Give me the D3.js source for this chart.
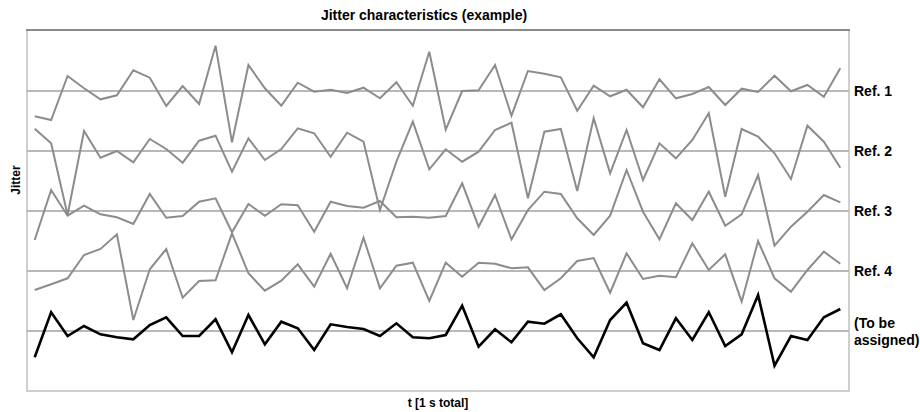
<!DOCTYPE html>
<html>
<head>
<meta charset="utf-8">
<script src="https://cdn.jsdelivr.net/npm/d3@7"></script>
<style>
  body { margin: 0; background: #fff; }
  text { font-family: Arial, "Liberation Sans", sans-serif; font-weight: bold; fill: #000; }
</style>
</head>
<body>
<svg id="chart" width="920" height="412"></svg>
<script>
// reading offsets from each reference line, one per time step (50 steps over 1 s)
const labels = ['Ref. 1', 'Ref. 2', 'Ref. 3', 'Ref. 4', '(To be assigned)'];

const ref1 = [-25.3, -29, 15, 2.7, -8.3, -4.3, 20.7, 13.3, -15, 5, -13, 45.3, -51.3, 26, 2.7, -14.7, 8.3, -0.7,
  1.3, -2, 3.3, -7.3, 8.7, -14.7, 39.3, -38.7, 0, 0.7, 26, -24.7, 20, 17.3, 13.7, -19.7,
  5.3, -5.3, 1.3, -16.3, 11.7, -7.3, -3, 4, -14, 2.3, -1, 15.3, -0.3, 6, -5.7, 22.7];
const ref2 = [22.3, 7.7, -64, 20, -6.7, 0, -11.3, 12, 2, -11.7, 10.3, 15.3, -20.7, 12.7, -9, 2, 22.7, 17.7,
  -5.7, 18.3, 9.3, -59, -10.7, 29.3, -18.3, 1.7, -10.7, -0.7, 21, 28.3, -47.3, 19.3, 22, -40,
  32.7, -22.3, 21, -29, 7.7, -7.3, 11, 37.7, -45.7, 22, 14.3, -2.3, -28, 25.3, 9.3, -16.7];
const ref3 = [-29, 21, -4.7, 5.3, -3.3, -6.3, -13, 17, -6.7, -5, 9.3, 12.7, -21.3, 7, -4.7, 6.7, 5.7, -20.7,
  9.3, 5, 3.3, 10, -6.3, -5.7, -6.7, -5, 27.7, -15.7, 16, -28.3, 1, 19.3, 17, -7.3,
  -24, -4.7, 41, -0.7, -28.3, 7.7, -9, 19.3, -14.7, -3.3, 36, -34.7, -15.7, -0.7, 16, 8.7];
const ref4 = [-19, -13.3, -7.3, 16, 22, 36.7, -49, 1.7, 22, -26.7, -10, -9.3, 37.7, -2.3, -19.7, -9.7, 6.7, -15.7,
  17.3, -17.3, 33.3, -17.3, 5.3, 8.3, -30, 8.3, -5.7, 8.3, 7.3, 2.7, 3.7, -19, -7.3, 10,
  13, -21.7, 17.7, -8, -4.7, -6.3, 27.7, 1, 16.7, -30.7, 30, -7.3, -20.7, 1, 19.3, 7.3];
const assigned = [-26.3, 18.7, -5, 5, -3.3, -6.3, -8.3, 6, 13.7, -5, -5, 11.7, -21.3, 16, -13.3, 9.3, 2.7, -19,
  6.7, 4, 2, -5, 7.7, -6.3, -7.3, -4, 25.3, -15.7, 1.7, -11.3, 9.3, 7.3, 16.7, -7.3,
  -26.3, 11, 28.3, -12.3, -19, 12.7, -9, 18.7, -15, -3.3, 36, -34.7, -5, -9, 13.7, 22];

const seriesList = [ref1, ref2, ref3, ref4, assigned];
const spacing = 60; // jitter units between reference lines

const svg = d3.select('#chart');
const plot = { left: 27, right: 849, top: 30, bottom: 391 };

const x = d3.scaleLinear().domain([0, ref1.length - 1]).range([34.7, 840.3]);
// band 0 = "(To be assigned)", band 4 = Ref. 1
const y = d3.scaleLinear().domain([-1, 5]).range([plot.bottom, plot.top + 1]);
const bandOf = i => seriesList.length - 1 - i;

// frame
svg.append('rect')
  .attr('x', plot.left).attr('y', plot.top)
  .attr('width', plot.right - plot.left).attr('height', plot.bottom - plot.top)
  .attr('fill', 'none').attr('stroke', '#cfcfcf').attr('stroke-width', 2);
svg.append('line')
  .attr('x1', plot.left - 1).attr('x2', plot.right + 1)
  .attr('y1', plot.top).attr('y2', plot.top)
  .attr('stroke', '#8a8a8a').attr('stroke-width', 2);

// reference lines
svg.append('g').selectAll('line')
  .data(seriesList)
  .join('line')
  .attr('x1', plot.left).attr('x2', plot.right)
  .attr('y1', (d, i) => y(bandOf(i))).attr('y2', (d, i) => y(bandOf(i)))
  .attr('stroke', '#b8b8b8').attr('stroke-width', 2.2);

// jitter traces
seriesList.forEach((vals, i) => {
  const line = d3.line()
    .x((d, j) => x(j))
    .y(d => y(bandOf(i) + d / spacing));
  const last = i === seriesList.length - 1;
  svg.append('path')
    .datum(vals)
    .attr('d', line)
    .attr('fill', 'none')
    .attr('stroke', last ? '#000' : '#8c8c8c')
    .attr('stroke-width', last ? 2.6 : 2)
    .attr('stroke-linejoin', 'miter');
});

// right hand labels
labels.forEach((lab, i) => {
  const t = svg.append('text')
    .attr('x', 854)
    .attr('font-size', 14);
  if (lab.startsWith('(')) {
    t.attr('y', y(bandOf(i)) - 3);
    t.append('tspan').attr('x', 854).text('(To be');
    t.append('tspan').attr('x', 854).attr('dy', 17).text('assigned)');
  } else {
    t.attr('y', y(bandOf(i)) + 5).text(lab);
  }
});

// titles
svg.append('text')
  .attr('x', 424).attr('y', 20)
  .attr('text-anchor', 'middle').attr('font-size', 14)
  .text('Jitter characteristics (example)');
svg.append('text')
  .attr('x', 438).attr('y', 407)
  .attr('text-anchor', 'middle').attr('font-size', 12)
  .text('t [1 s total]');
svg.append('text')
  .attr('transform', 'translate(20,180) rotate(-90)')
  .attr('text-anchor', 'middle').attr('font-size', 12)
  .text('Jitter');
</script>
</body>
</html>
